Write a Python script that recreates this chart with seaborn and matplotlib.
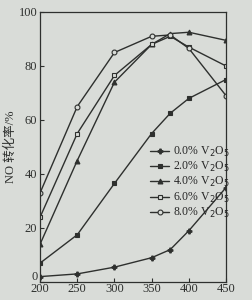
import numpy as np
import pandas as pd
import matplotlib
matplotlib.use("Agg")
import matplotlib.pyplot as plt
import matplotlib.transforms as mtransforms
import seaborn as sns

# temperatures (x) and NO conversion (%) for each V2O5 loading
temps = [200, 250, 300, 350, 375, 400, 450]
v0 = [2, 3, 5.5, 9, 12, 19, 35]
v2 = [7, 17.5, 36.5, 55, 62.5, 68, 75]
v4 = [14, 45, 74, 88, 92, 92.5, 89.5]
v6 = [24, 55, 76.5, 88, 91, 87, 80]
v8 = [33, 65, 85, 91, 91.5, 86.5, 69]

labels = ["0.0% V$_2$O$_5$", "2.0% V$_2$O$_5$", "4.0% V$_2$O$_5$",
          "6.0% V$_2$O$_5$", "8.0% V$_2$O$_5$"]
series = [v0, v2, v4, v6, v8]

rows = []
for lab, vals in zip(labels, series):
    for t, v in zip(temps, vals):
        rows.append({"T": t, "conv": v, "loading": lab})
df = pd.DataFrame(rows)

sns.set_style("ticks")
plt.rcParams['font.family'] = ['Liberation Serif', 'Noto Sans CJK SC']
bg = "#d9dcd8"
ink = "#2e302e"

fig = plt.figure(figsize=(2.52, 3.0), dpi=100, facecolor=bg)
ax = fig.add_axes([0.159, 0.06, 0.738, 0.9])
ax.set_facecolor(bg)

markers = ["P", "s", "^", "s", "o"]
fills = [ink, ink, ink, bg, bg]
for lab, m, fc in zip(labels, markers, fills):
    d = df[df["loading"] == lab]
    sns.lineplot(data=d, x="T", y="conv", ax=ax, color=ink, lw=1.0,
                 marker=m, markersize=3.5, markerfacecolor=fc,
                 markeredgecolor=ink, markeredgewidth=0.8, label=lab)

ax.set_xlim(200, 450)
ax.set_ylim(0, 100)
ax.set_xticks([200, 250, 300, 350, 400, 450])
ax.set_yticks([0, 20, 40, 60, 80, 100])
ax.tick_params(direction="in", length=3, width=0.8, labelsize=9,
               colors=ink, pad=2)
ax.tick_params(axis="x", pad=1)
for s in ax.spines.values():
    s.set_color(ink)
    s.set_linewidth(0.9)
ax.set_xlabel("")
ax.set_ylabel("NO 转化率/%", fontsize=9, color=ink, labelpad=1)

# nudge the "0" label up a little so it clears the "200" below it
fig.canvas.draw()
shift = mtransforms.ScaledTranslation(0, 6 / 100, fig.dpi_scale_trans)
for lbl in ax.get_yticklabels():
    if lbl.get_text() == "0":
        lbl.set_transform(lbl.get_transform() + shift)

ax.legend(loc="upper left", bbox_to_anchor=(0.56, 0.53), frameon=False,
          fontsize=8.5, handlelength=1.6, handletextpad=0.3,
          labelspacing=0.1, borderpad=0)

fig.savefig("out.png", dpi=100, facecolor=bg)
